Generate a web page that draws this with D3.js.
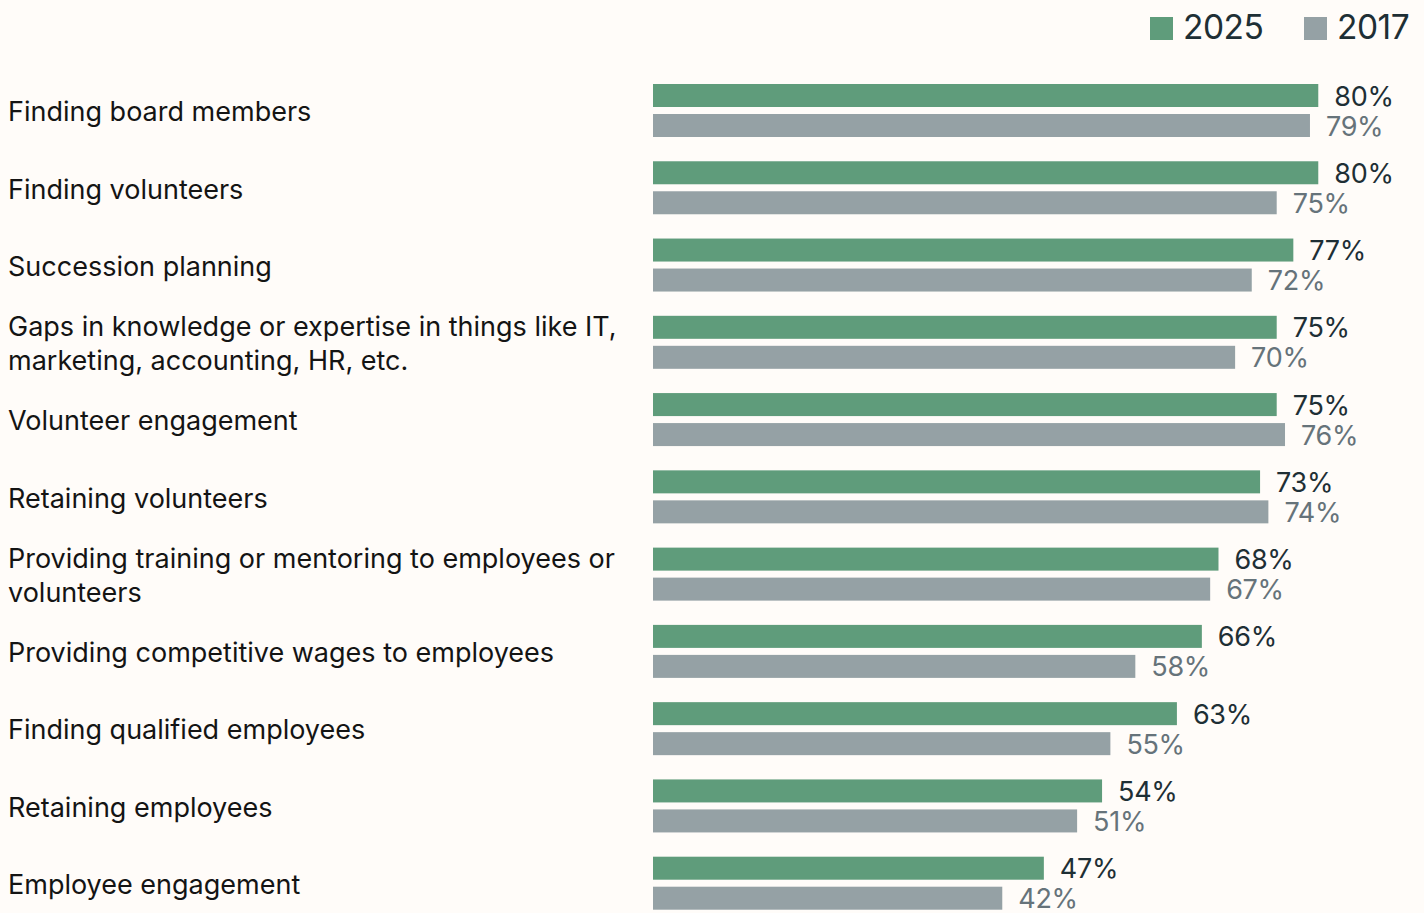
<!DOCTYPE html>
<html>
<head>
<meta charset="utf-8">
<script src="https://cdn.jsdelivr.net/npm/d3@7"></script>
<style>
  html, body { margin: 0; padding: 0; background: #fffcf9; }
  svg { display: block; }
  text { font-family: "Inter", "Open Sans", sans-serif; }
</style>
</head>
<body>
<svg id="chart" width="1424" height="913"></svg>
<script>
// Challenges reported by organisations, share of respondents (%)
const categories = [
  "Finding board members",
  "Finding volunteers",
  "Succession planning",
  "Gaps in knowledge or expertise in things like IT,|marketing, accounting, HR, etc.",
  "Volunteer engagement",
  "Retaining volunteers",
  "Providing training or mentoring to employees or|volunteers",
  "Providing competitive wages to employees",
  "Finding qualified employees",
  "Retaining employees",
  "Employee engagement"
];
const values2025 = [80, 80, 77, 75, 75, 73, 68, 66, 63, 54, 47];
const values2017 = [79, 75, 72, 70, 76, 74, 67, 58, 55, 51, 42];
const seriesNames = ["2025", "2017"];

const colors = { "2025": "#5f9c7b", "2017": "#95a1a5" };
const valueText = { "2025": "#1e2f35", "2017": "#66737a" };

const svg = d3.select("#chart");

const x = d3.scaleLinear().domain([0, 100]).range([653, 1484.6]);
const y = d3.scaleBand()
  .domain(d3.range(categories.length))
  .range([84, 84 + 77.27 * categories.length])
  .paddingInner(0)
  .paddingOuter(0);
const sub = d3.scaleBand().domain(seriesNames).range([0, 53]).paddingInner(7 / 30);

const rows = categories.map((c, i) => ({
  label: c, i,
  bars: [
    { key: "2025", v: values2025[i] },
    { key: "2017", v: values2017[i] }
  ]
}));

const g = svg.selectAll("g.row").data(rows).join("g")
  .attr("class", "row")
  .attr("transform", d => `translate(0,${y(d.i)})`);

g.selectAll("rect").data(d => d.bars).join("rect")
  .attr("x", x(0))
  .attr("y", b => sub(b.key))
  .attr("width", b => x(b.v) - x(0))
  .attr("height", sub.bandwidth())
  .attr("fill", b => colors[b.key]);

g.selectAll("text.val").data(d => d.bars).join("text")
  .attr("class", "val")
  .attr("x", b => x(b.v) + 16)
  .attr("y", b => sub(b.key) + sub.bandwidth() / 2 + 0.5)
  .attr("dominant-baseline", "central")
  .attr("font-size", 27)
  .attr("letter-spacing", -0.3)
  .attr("fill", b => valueText[b.key])
  .text(b => b.v + "%");

// Category labels, one or two lines centred on the pair of bars
g.each(function(d) {
  const lines = d.label.split("|");
  const lh = 34.5;
  const mid = 27.8;
  const t = d3.select(this).append("text")
    .attr("x", 8)
    .attr("font-size", 27)
    .attr("fill", "#141414");
  lines.forEach((ln, k) => {
    t.append("tspan")
      .attr("x", 8)
      .attr("y", mid + (k - (lines.length - 1) / 2) * lh)
      .attr("dominant-baseline", "central")
      .text(ln);
  });
});

// Legend
const legend = svg.append("g");
const legendX = { "2025": 1150, "2017": 1304 };
seriesNames.forEach(s => {
  legend.append("rect")
    .attr("x", legendX[s]).attr("y", 17)
    .attr("width", 23).attr("height", 23)
    .attr("fill", colors[s]);
  legend.append("text")
    .attr("x", legendX[s] + 33).attr("y", 27)
    .attr("dominant-baseline", "central")
    .attr("font-size", 33.5)
    .attr("letter-spacing", -0.5)
    .attr("fill", "#1e2f35")
    .text(s);
});
</script>
</body>
</html>
